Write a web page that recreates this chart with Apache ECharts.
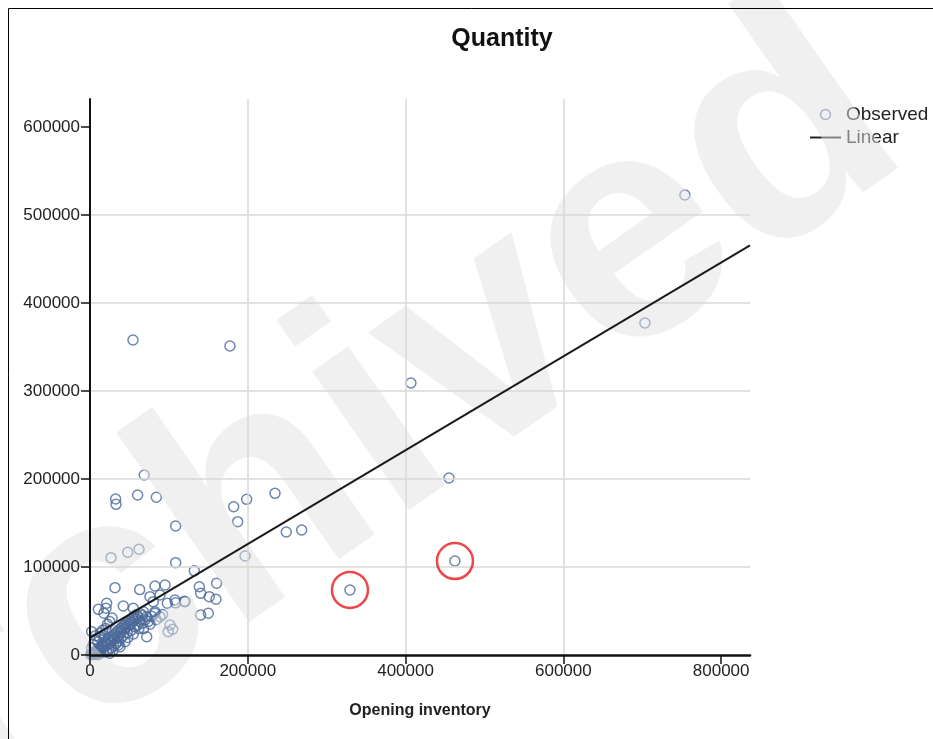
<!DOCTYPE html>
<html><head><meta charset="utf-8">
<script src="https://cdn.jsdelivr.net/npm/echarts@6/dist/echarts.min.js"></script>
<style>html,body{margin:0;padding:0;background:#fff}#c{width:933px;height:739px}</style>
</head><body><div id="c"></div>
<script>
const titleText = 'Quantity';
const xAxisName = 'Opening inventory';
const xTickValues = [0, 200000, 400000, 600000, 800000];
const yTickValues = [0, 100000, 200000, 300000, 400000, 500000, 600000];
const xMax = 836600;
const yMax = 631800;

// Observed points: [Opening inventory, Quantity]
const observed = [
  [754100, 522700], [703400, 377300], [406800, 309100], [455000, 201100],
  [462600, 106800], [329500, 73900], [54500, 358000], [177400, 351100],
  [68800, 204500], [32500, 177300], [33000, 171200], [60400, 181800],
  [84100, 179200], [108600, 146600], [182100, 168500], [198600, 176900],
  [234500, 183700], [187200, 151500], [196500, 112500], [248800, 139800],
  [268300, 142000], [26600, 110600], [47800, 116700], [62100, 120100],
  [108600, 104900], [132200, 95600], [138600, 77600], [160500, 81500],
  [140300, 70100], [151200, 66300], [159700, 63300], [120400, 60600],
  [140300, 45500], [150000, 47400], [31700, 76500], [82400, 78400],
  [95100, 79500], [76000, 66300], [88700, 68200], [80200, 60600],
  [98000, 58800], [107700, 62500], [67600, 49200], [71900, 43500],
  [82400, 49200], [88700, 43500], [101400, 34100], [104800, 29200],
  [99200, 26500], [71900, 20800], [38000, 9400], [42200, 55700],
  [21100, 58800], [20300, 53100], [10500, 51900], [17700, 47400],
  [54900, 53100], [2100, 26500], [44400, 15100], [35900, 11400],
  [119800, 61000], [108500, 59300], [82100, 47500], [63000, 74300],
  [3000, 1000], [5000, 2500], [6000, 4000], [8000, 3000], [9000, 6000],
  [11000, 5000], [12000, 8000], [14000, 7000], [15000, 10000], [16000, 12000],
  [18000, 9000], [19000, 13000], [20000, 15000], [22000, 12000], [23000, 16000],
  [24000, 18000], [26000, 14000], [27000, 20000], [28000, 17000], [30000, 22000],
  [31000, 19000], [32000, 24000], [34000, 26000], [35000, 21000], [36000, 28000],
  [38000, 25000], [39000, 30000], [40000, 27000], [41000, 32000], [43000, 29000],
  [44000, 34000], [45000, 31000], [46000, 36000], [48000, 33000], [49000, 38000],
  [50000, 35000], [51000, 40000], [53000, 37000], [54000, 42000], [55000, 39000],
  [56000, 44000], [58000, 41000], [59000, 46000], [61000, 43000], [63000, 38000],
  [64000, 47000], [66000, 45000], [2000, 8000], [4000, 12000], [6000, 18000],
  [7000, 22000], [10000, 15000], [12000, 20000], [13000, 25000], [16000, 28000],
  [18000, 22000], [20000, 30000], [22000, 35000], [25000, 38000], [28000, 42000],
  [1000, 500], [2000, 2000], [4000, 500], [7000, 1000], [10000, 500],
  [13000, 2000], [17000, 3000], [21000, 4000], [24000, 6000], [27000, 8000],
  [30000, 10000], [33000, 13000], [36000, 16000], [39000, 19000], [42000, 22000],
  [47000, 25000], [52000, 28000], [57000, 32000], [62000, 30000], [25000, 2000],
  [29000, 5000], [48000, 20000], [55000, 24000], [60000, 34000], [66000, 36000],
  [70000, 40000], [74000, 38000], [78000, 44000], [84000, 40000], [92000, 46000],
  [68000, 30000], [76000, 35000]
];

// Linear fit line end points
const fitX = [0, 836600];
const fitY = [19500, 465400];

// Highlighted (red-circled) points
const highlightX = [329500, 462600];
const highlightY = [73900, 106800];

const FONT = '"Liberation Sans", Arial, sans-serif';
const chart = echarts.init(document.getElementById('c'), null, {renderer: 'canvas'});
const plain = v => String(v);

chart.setOption({
  animation: false,
  backgroundColor: '#fff',
  title: {
    text: titleText, left: 497, top: 22, textAlign: 'center',
    textStyle: {fontFamily: FONT, fontSize: 25, fontWeight: 'bold', color: '#111'}
  },
  legend: {
    orient: 'vertical', left: 805, top: 100, itemWidth: 31, itemHeight: 10, itemGap: 4,
    textStyle: {fontFamily: FONT, fontSize: 19, color: '#222'},
    data: [
      {name: 'Observed', icon: 'circle', itemStyle: {color: 'rgba(0,0,0,0)', borderColor: '#4a6899', borderWidth: 1.5}},
      {name: 'Linear', icon: 'path://M0,0 L33,0 L33,2 L0,2 Z', itemStyle: {color: '#1a1a1a', borderWidth: 0}}
    ]
  },
  grid: {left: 90, top: 99, width: 660, height: 556, containLabel: false},
  xAxis: {
    type: 'value', min: 0, max: xMax, interval: 200000, z: 120,
    name: xAxisName, nameLocation: 'middle', nameGap: 48,
    nameTextStyle: {fontFamily: FONT, fontSize: 16, fontWeight: 'bold', color: '#222'},
    axisLine: {show: true, onZero: false, lineStyle: {color: '#111', width: 2.5}},
    axisTick: {show: true, length: 9, customValues: xTickValues, lineStyle: {color: '#111', width: 1.5}},
    axisLabel: {customValues: xTickValues, formatter: plain, fontFamily: FONT, fontSize: 17, color: '#222', margin: 8},
    splitLine: {show: true, showMaxLine: false, showMinLine: false, lineStyle: {color: '#d9d9d9', width: 1.5}}
  },
  yAxis: {
    type: 'value', min: 0, max: yMax, interval: 100000, z: 120,
    axisLine: {show: true, onZero: false, lineStyle: {color: '#111', width: 2}},
    axisTick: {show: true, length: 9, customValues: yTickValues, lineStyle: {color: '#111', width: 1.5}},
    axisLabel: {customValues: yTickValues, formatter: plain, fontFamily: FONT, fontSize: 17, color: '#222', margin: 10},
    splitLine: {show: true, showMaxLine: false, showMinLine: false, lineStyle: {color: '#d9d9d9', width: 1.5}}
  },
  series: [
    {
      name: 'Observed', type: 'scatter', symbol: 'circle', symbolSize: 10, z: 3,
      itemStyle: {color: 'rgba(0,0,0,0)', borderColor: '#4a6899', borderWidth: 1.5},
      data: observed
    },
    {
      name: 'Linear', type: 'line', symbol: 'none', showSymbol: false, z: 125,
      lineStyle: {color: '#1a1a1a', width: 2},
      itemStyle: {color: '#1a1a1a'},
      data: fitX.map((x, i) => [x, fitY[i]])
    },
    {
      name: 'highlight', type: 'scatter', symbol: 'circle', symbolSize: 36, z: 126,
      itemStyle: {color: 'rgba(0,0,0,0)', borderColor: '#e8191c', borderWidth: 2.5},
      data: highlightX.map((x, i) => [x, highlightY[i]])
    }
  ],
  graphic: [
    {
      type: 'text', x: 304, y: 476, rotation: 35 * Math.PI / 180, z: 100, silent: true,
      style: {
        text: 'Archived', font: 'bold 320px "Liberation Sans", Arial, sans-serif',
        fill: 'rgba(225,225,225,0.5)', align: 'center', verticalAlign: 'middle'
      }
    },
    {
      type: 'rect', z: 101, silent: true,
      shape: {x: 8.5, y: 8.5, width: 1000, height: 1000},
      style: {fill: 'none', stroke: '#000', lineWidth: 1}
    }
  ]
});
</script></body></html>
